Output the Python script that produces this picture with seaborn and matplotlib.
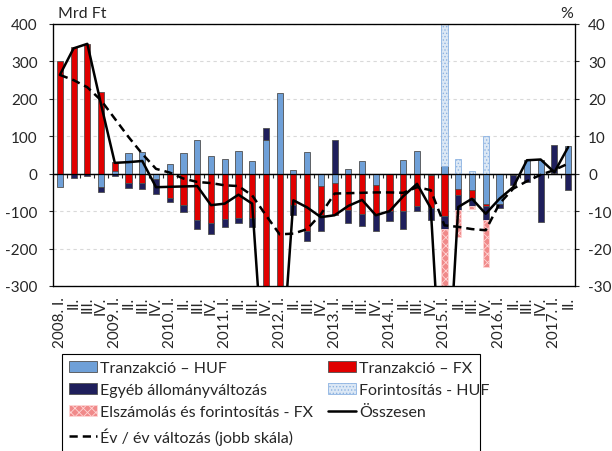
"""
Hitelállomány változása: tranzakciók, egyéb változás, forintosítás
"""
import numpy as np
import matplotlib
matplotlib.use('Agg')
import matplotlib.pyplot as plt
import seaborn as sns
from matplotlib.patches import Patch, Rectangle
from matplotlib.lines import Line2D

sns.set_style("white")
plt.rcParams['font.family'] = ['Lato', 'DejaVu Sans']
plt.rcParams['axes.edgecolor'] = 'black'
plt.rcParams['axes.unicode_minus'] = False
plt.rcParams['hatch.linewidth'] = 0.6

# Negyedévek: 2008. I. - 2017. II.
years = list(range(2008, 2018))
romans = ['I.', 'II.', 'III.', 'IV.']
quarter_labels = []
for y in years:
    for k, r in enumerate(romans):
        if y == 2017 and k > 1:
            break
        quarter_labels.append(f"{y}. {r}" if k == 0 else r)

# Mrd Ft
tranz_huf = [-35, 0, 0, -35, 7, 55, 58, -13, 25, 55,
             90, 46, 38, 60, 34, 89, 216, 11, 58, -34,
             -25, 12, 34, -29, 0, 36, 60, -3, 20, -40,
             -44, -80, -80, -4, 36, 36, 3, 74]
tranz_fx = [300, 338, 347, 218, 23, -25, -24, 0, -64, -84,
            -124, -131, -120, -118, -118, -650, -800, -84, -153, -77,
            -86, -98, -107, -78, -100, -100, -87, -89, -113, -16,
            -22, -7, 0, 0, 0, 0, 0, 0]
egyeb = [0, -12, -6, -14, -6, -13, -18, -40, -12, -18,
         -25, -31, -22, -15, -24, 33, 0, -25, -27, -42,
         89, -33, -33, -47, -26, -48, -13, -31, -34, -42,
         -20, -37, -11, -26, -22, -129, 75, -44]
forint_huf = [0] * 28 + [900, 38, 6, 102, 0, 0, 0, 0, 0, 0]
elszam_fx = [0] * 28 + [-700, -71, -7, -124, 0, 0, 0, 0, 0, 0]
osszesen = [264, 335, 347, 185, 29, 31, 34, -36, -35, -34,
            -33, -84, -80, -56, -80, -615, -590, -71, -90, -116,
            -111, -86, -70, -111, -100, -60, -27, -92, -720, -89,
            -67, -107, -67, -36, 36, 38, 4, 71]
# %
ev_ev = [26.4, 25.0, 23.1, 19.6, 14.7, 9.8, 5.3, 1.3, 0.3, -1.3,
         -2.2, -2.5, -3.1, -3.3, -5.8, -11.1, -16.2, -16.0, -14.8, -10.8,
         -5.3, -5.2, -5.1, -5.0, -5.0, -5.1, -3.6, -4.4, -13.8, -14.2,
         -14.8, -15.1, -8.0, -4.0, -2.0, -0.3, 1.0, 2.7]

n = len(quarter_labels)
x = np.arange(n)

fig = plt.figure(figsize=(6.12, 4.52), dpi=100)
ax = fig.add_axes([53 / 612, 1 - 287 / 452, 522 / 612, 262 / 452])

# Stacked bars (positives up from zero, negatives down from zero)
styles = [
    (tranz_huf, dict(color='#6FA0D8', edgecolor='#505050', linewidth=0.6)),
    (tranz_fx, dict(color='#E00000', edgecolor='#505050', linewidth=0.6)),
    (egyeb, dict(color='#1F1F5C', edgecolor='#505050', linewidth=0.6)),
    (forint_huf, dict(facecolor='#DCE8F5', edgecolor='#8DB3E2', hatch='.....', linewidth=0.6)),
    (elszam_fx, dict(facecolor='#F08A8A', edgecolor='#FFD6D6', hatch='xxxx', linewidth=0.6)),
]
pos_base = np.zeros(n)
neg_base = np.zeros(n)
for vals, st in styles:
    vals = np.asarray(vals, dtype=float)
    bottom = np.where(vals >= 0, pos_base, neg_base)
    m = vals != 0
    ax.bar(x[m], vals[m], bottom=bottom[m], width=0.45, zorder=2, **st)
    pos_base += np.clip(vals, 0, None)
    neg_base += np.clip(vals, None, 0)

sns.lineplot(x=x, y=osszesen, ax=ax, color='black', linewidth=1.8, zorder=4)

ax.set_xlim(-0.5, n - 0.5)
ax.set_ylim(-300, 400)
ax.set_yticks(range(-300, 401, 100))
ax.yaxis.grid(True, linestyle=(0, (3, 3)), color='#D9D9D9', linewidth=0.8)
ax.set_axisbelow(True)
ax.axhline(0, color='black', linewidth=0.9, zorder=3)
ax.set_xticks(x)
ax.set_xticklabels(quarter_labels, rotation=90, fontsize=11)
ax.tick_params(axis='x', length=0, pad=7)
ax.tick_params(axis='y', left=True, length=3, width=0.8, direction='out',
               labelsize=11, pad=8)
for s in ax.spines.values():
    s.set_linewidth(0.9)

# small ticks on the zero line
secax = ax.secondary_xaxis(300 / 700)
secax.set_xticks(np.arange(-0.5, n, 1.0))
secax.tick_params(axis='x', length=3, width=0.8, direction='out',
                  labelbottom=False, labeltop=False)
secax.spines['bottom'].set_linewidth(0.9)

ax2 = ax.twinx()
sns.lineplot(x=x, y=ev_ev, ax=ax2, color='black', linewidth=1.8)
ax2.lines[-1].set_dashes([3.3, 2])
ax2.set_ylim(-30, 40)
ax2.set_yticks(range(-30, 41, 10))
ax2.tick_params(axis='y', right=True, length=3, width=0.8, direction='out',
                labelsize=11, pad=6.5)
ax2.set_ylabel('')
ax.set_ylabel('')

ax.text(0.01, 1.015, 'Mrd Ft', transform=ax.transAxes, fontsize=11.5,
        va='bottom', ha='left')
ax.text(0.997, 1.015, '%', transform=ax.transAxes, fontsize=11.5,
        va='bottom', ha='right')

handles = [
    Patch(facecolor='#6FA0D8', edgecolor='#505050', linewidth=0.6),
    Patch(facecolor='#1F1F5C', edgecolor='#505050', linewidth=0.6),
    Patch(facecolor='#F08A8A', edgecolor='#FFD6D6', hatch='xxxx', linewidth=0.6),
    Line2D([], [], color='black', linewidth=1.8, dashes=[3.3, 2]),
    Patch(facecolor='#E00000', edgecolor='#505050', linewidth=0.6),
    Patch(facecolor='#DCE8F5', edgecolor='#8DB3E2', hatch='.....', linewidth=0.6),
    Line2D([], [], color='black', linewidth=1.8),
]
labels = ['Tranzakció – HUF', 'Egyéb állományváltozás', 'Elszámolás és forintosítás - FX',
          'Év / év változás (jobb skála)', 'Tranzakció – FX', 'Forintosítás - HUF', 'Összesen']
leg = fig.legend(handles, labels, ncol=2, loc='upper left',
                 bbox_to_anchor=(62 / 612, 1 - 355 / 452), fontsize=11.5,
                 frameon=False, handlelength=1.75, handleheight=0.62,
                 handletextpad=0.2, labelspacing=0.5, columnspacing=0.9,
                 borderpad=0.45, borderaxespad=0)

# legend box (runs past the bottom edge, as in the original)
fig.patches.append(Rectangle((62 / 612, -0.02), (480 - 62) / 612, 0.02 + 1 - 355 / 452,
                             transform=fig.transFigure, fill=False,
                             edgecolor='black', linewidth=0.8))

fig.savefig('out.png', dpi=100)
